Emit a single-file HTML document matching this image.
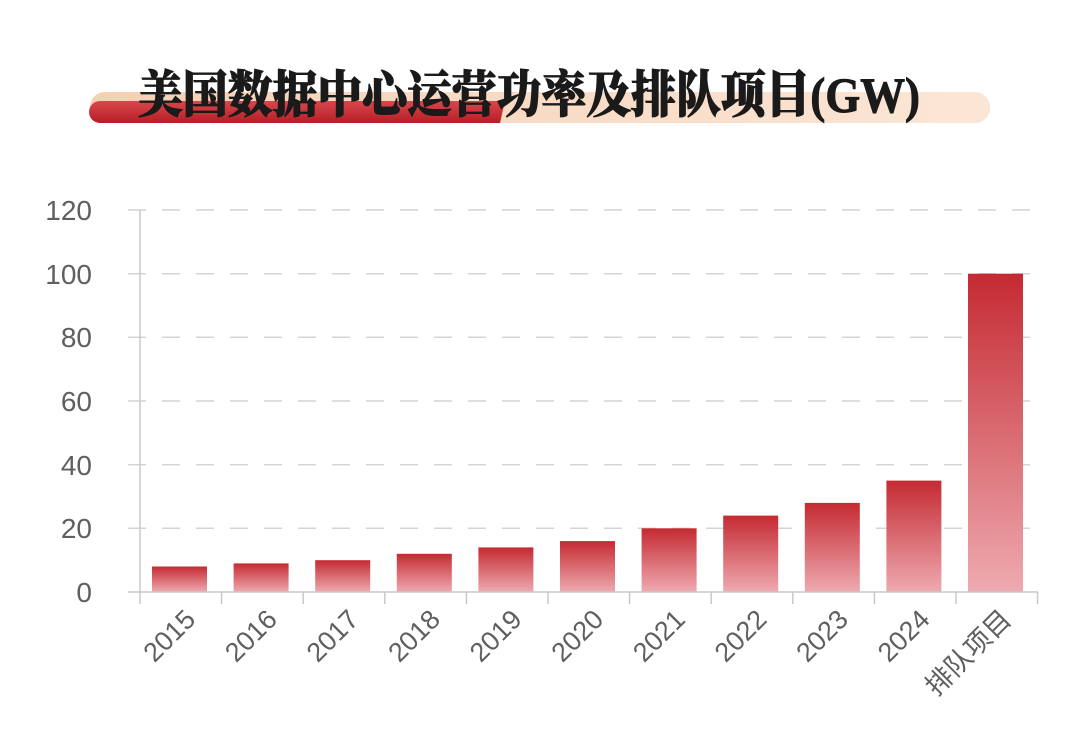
<!DOCTYPE html>
<html><head><meta charset="utf-8"><style>
html,body{margin:0;padding:0;background:#fff;}
svg{display:block;}
</style></head><body>
<svg width="1080" height="747" viewBox="0 0 1080 747" xmlns="http://www.w3.org/2000/svg">
<defs>
<linearGradient id="bar" x1="0" y1="0" x2="0" y2="1">
<stop offset="0" stop-color="#c52a32"/><stop offset="1" stop-color="#eeaab0"/>
</linearGradient>
<linearGradient id="peach" x1="0" y1="0" x2="1" y2="0">
<stop offset="0" stop-color="#f6d0b4"/><stop offset="1" stop-color="#fbe6d6"/>
</linearGradient>
<linearGradient id="red" x1="0" y1="0" x2="0" y2="1">
<stop offset="0" stop-color="#d8474c"/><stop offset="1" stop-color="#b51f27"/>
</linearGradient>
</defs>
<rect x="90" y="92" width="900" height="31" rx="15" fill="url(#peach)"/>
<path d="M100 101 L505 101 L500 123 L100 123 A11 11 0 0 1 100 101 Z" fill="url(#red)"/>
<text x="138" y="112" textLength="782" lengthAdjust="spacingAndGlyphs" font-family="Liberation Serif, Noto Serif CJK SC, serif" font-weight="900" font-size="50" fill="#1a1a1a" stroke="#1a1a1a" stroke-width="1">美国数据中心运营功率及排队项目(GW)</text>
<g stroke="#d4d4d4" stroke-width="1.5" stroke-dasharray="18 16">
<line x1="128" y1="210" x2="1036" y2="210"/>
<line x1="128" y1="273.7" x2="1036" y2="273.7"/>
<line x1="128" y1="337.3" x2="1036" y2="337.3"/>
<line x1="128" y1="401" x2="1036" y2="401"/>
<line x1="128" y1="464.7" x2="1036" y2="464.7"/>
<line x1="128" y1="528.3" x2="1036" y2="528.3"/>
</g>
<g font-family="Liberation Sans, sans-serif" font-size="28" fill="#5f5f5f" text-anchor="end">
<text x="92" y="220">120</text><text x="92" y="284">100</text><text x="92" y="347">80</text>
<text x="92" y="411">60</text><text x="92" y="475">40</text><text x="92" y="538">20</text><text x="92" y="602">0</text>
</g>
<g fill="url(#bar)">
<rect x="152" y="566.5" width="55" height="25.5"/>
<rect x="233.6" y="563.4" width="55" height="28.6"/>
<rect x="315.2" y="560.2" width="55" height="31.8"/>
<rect x="396.8" y="553.8" width="55" height="38.2"/>
<rect x="478.4" y="547.4" width="55" height="44.6"/>
<rect x="560" y="541.1" width="55" height="50.9"/>
<rect x="641.6" y="528.3" width="55" height="63.7"/>
<rect x="723.2" y="515.6" width="55" height="76.4"/>
<rect x="804.8" y="502.9" width="55" height="89.1"/>
<rect x="886.4" y="480.6" width="55" height="111.4"/>
<rect x="968" y="273.7" width="55" height="318.3"/>
</g>
<g stroke="#c8c8c8" stroke-width="1.5">
<line x1="140" y1="210" x2="140" y2="604"/>
<line x1="128" y1="592" x2="1038" y2="592"/>
<line x1="221.6" y1="592" x2="221.6" y2="604"/><line x1="303.2" y1="592" x2="303.2" y2="604"/>
<line x1="384.8" y1="592" x2="384.8" y2="604"/><line x1="466.4" y1="592" x2="466.4" y2="604"/>
<line x1="548" y1="592" x2="548" y2="604"/><line x1="629.6" y1="592" x2="629.6" y2="604"/>
<line x1="711.2" y1="592" x2="711.2" y2="604"/><line x1="792.8" y1="592" x2="792.8" y2="604"/>
<line x1="874.4" y1="592" x2="874.4" y2="604"/><line x1="956" y1="592" x2="956" y2="604"/>
<line x1="1037.6" y1="592" x2="1037.6" y2="604"/>
</g>
<g font-family="Liberation Sans, Noto Sans CJK SC, sans-serif" font-size="27" fill="#5f5f5f" text-anchor="end">
<text transform="translate(197,621) rotate(-45)">2015</text>
<text transform="translate(278.6,621) rotate(-45)">2016</text>
<text transform="translate(360.2,621) rotate(-45)">2017</text>
<text transform="translate(441.8,621) rotate(-45)">2018</text>
<text transform="translate(523.4,621) rotate(-45)">2019</text>
<text transform="translate(605,621) rotate(-45)">2020</text>
<text transform="translate(686.6,621) rotate(-45)">2021</text>
<text transform="translate(768.2,621) rotate(-45)">2022</text>
<text transform="translate(849.8,621) rotate(-45)">2023</text>
<text transform="translate(931.4,621) rotate(-45)">2024</text>
<text transform="translate(1013,621) rotate(-45)">排队项目</text>
</g>
</svg>
</body></html>
